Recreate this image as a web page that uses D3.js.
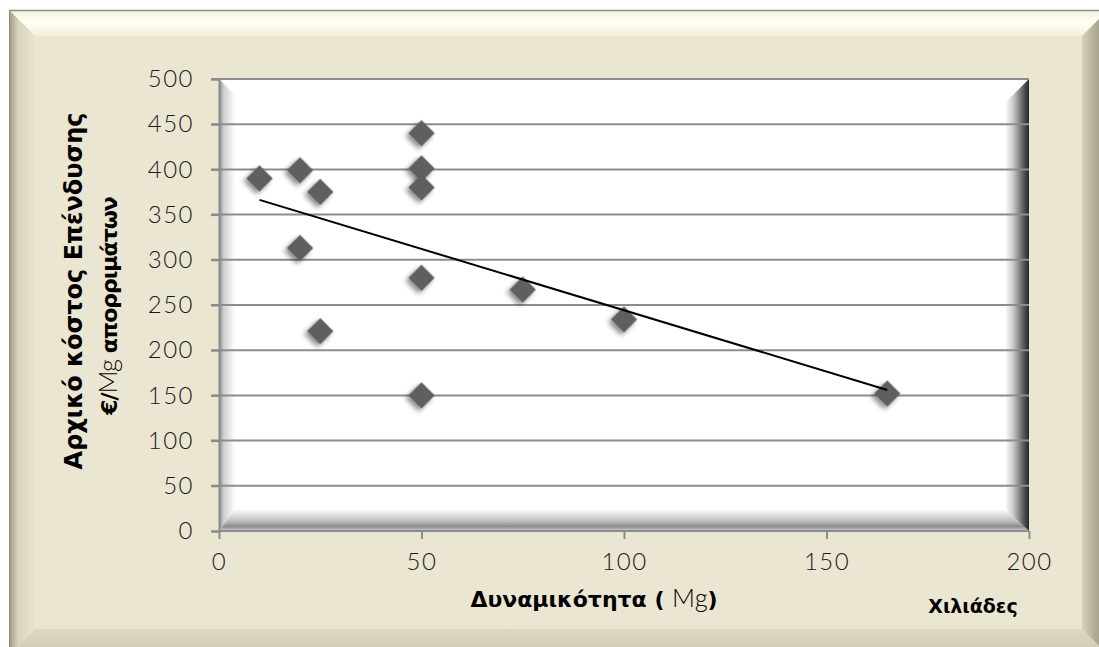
<!DOCTYPE html>
<html>
<head>
<meta charset="utf-8">
<script src="https://cdn.jsdelivr.net/npm/d3@7"></script>
<style>
  html, body { margin: 0; padding: 0; background: #ffffff; }
  svg { display: block; }
  .tick-label { font-family: Lato, sans-serif; font-weight: 300; font-size: 24px; fill: #1a1a1a; letter-spacing: 1.5px; }
  .axis-title { font-family: "DejaVu Sans", Verdana, sans-serif; font-weight: bold; fill: #000; }
  .unit { font-family: Lato, sans-serif; font-weight: 300; font-size: 1.15em; }
</style>
</head>
<body>
<svg id="chart" width="1099" height="647"></svg>
<script>
// Capacity (thousand Mg) and initial investment cost (€/Mg of waste)
const capacity = [10, 20, 25, 20, 25, 50, 50, 50, 50, 50, 75, 100, 165];
const cost     = [390, 399, 375, 313, 221, 440, 401, 380, 280, 150, 267, 234, 152];
const xTicks = [0, 50, 100, 150, 200];
const yTicks = [0, 50, 100, 150, 200, 250, 300, 350, 400, 450, 500];
const yTitleLines = ["Αρχικό κόστος Επένδυσης", "€/Mg απορριμάτων"];
const xTitle = "Δυναμικότητα ( Mg)";
const xUnitLabel = "Χιλιάδες";

const W = 1099, H = 647;
const svg = d3.select("#chart");
const defs = svg.append("defs");

function linGrad(id, x1, y1, x2, y2, stops) {
  const g = defs.append("linearGradient").attr("id", id)
    .attr("x1", x1).attr("y1", y1).attr("x2", x2).attr("y2", y2);
  stops.forEach(s => g.append("stop").attr("offset", s[0]).attr("stop-color", s[1]));
}

// Outer frame bevel
linGrad("bevTop", 0, 0, 0, 1, [[0, "#f4f1dc"], [0.5, "#fffff6"], [1, "#f3efdc"]]);
linGrad("bevLeft", 0, 0, 1, 0, [[0, "#9b9884"], [0.35, "#d8d3bd"], [1, "#e9e4cf"]]);
linGrad("bevRight", 0, 0, 1, 0, [[0, "#d7d2bc"], [0.6, "#a8a590"], [1, "#8e8b78"]]);
linGrad("bevBottom", 0, 0, 0, 1, [[0, "#ddd8c2"], [1, "#cfc9b2"]]);

const fx0 = 9, fy0 = 10, fx1 = 1108, fy1 = 655, bw = 26;
svg.append("rect").attr("x", fx0).attr("y", fy0).attr("width", fx1 - fx0).attr("height", fy1 - fy0)
  .attr("fill", "#ebe6d2");
const poly = (pts, fill) => svg.append("polygon").attr("points", pts.map(p => p.join(",")).join(" ")).attr("fill", fill);
poly([[fx0, fy0], [fx1, fy0], [fx1 - bw, fy0 + bw], [fx0 + bw, fy0 + bw]], "url(#bevTop)");
poly([[fx0, fy0], [fx0 + bw, fy0 + bw], [fx0 + bw, fy1 - bw], [fx0, fy1]], "url(#bevLeft)");
poly([[fx1, fy0], [fx1, fy1], [fx1 - bw, fy1 - bw], [fx1 - bw, fy0 + bw]], "url(#bevRight)");
poly([[fx0, fy1], [fx0 + bw, fy1 - bw], [fx1 - bw, fy1 - bw], [fx1, fy1]], "url(#bevBottom)");
svg.append("line").attr("x1", fx0).attr("y1", fy0 + 0.5).attr("x2", fx1).attr("y2", fy0 + 0.5)
  .attr("stroke", "#8a8a80").attr("stroke-width", 1.5);
svg.append("line").attr("x1", fx0 + 0.5).attr("y1", fy0).attr("x2", fx0 + 0.5).attr("y2", fy1)
  .attr("stroke", "#8a8a80").attr("stroke-width", 1);

// Plot area
const px0 = 219, px1 = 1029, py0 = 79, py1 = 531;
const x = d3.scaleLinear().domain([0, 200]).range([px0, px1]);
const y = d3.scaleLinear().domain([0, 500]).range([py1, py0]);

svg.append("rect").attr("x", px0).attr("y", py0).attr("width", px1 - px0).attr("height", py1 - py0)
  .attr("fill", "#ffffff");

// Inner bevel of the plot area
linGrad("inLeft", 0, 0, 1, 0, [[0, "#8a8a8a"], [0.3, "#cfcfcf"], [1, "#ffffff"]]);
linGrad("inBottom", 0, 0, 0, 1, [[0, "#ffffff"], [0.55, "#bdbdbd"], [0.8, "#8c8c8c"], [1, "#d0d0d0"]]);
linGrad("inRight", 0, 0, 1, 0, [[0, "#ffffff"], [0.35, "#c8c8c8"], [0.75, "#5e5e5e"], [1, "#262626"]]);
const lb = 16, bb = 22, rb = 24;
poly([[px0, py0], [px0 + lb, py0 + lb], [px0 + lb, py1 - bb], [px0, py1]], "url(#inLeft)");
poly([[px0, py1], [px0 + lb, py1 - bb], [px1 - rb, py1 - bb], [px1, py1]], "url(#inBottom)");
poly([[px1, py0], [px1, py1], [px1 - rb, py1 - bb], [px1 - rb, py0 + rb]], "url(#inRight)");

// Gridlines
svg.append("g").selectAll("line").data(yTicks.filter(t => t > 0)).join("line")
  .attr("x1", px0 - 8).attr("x2", px1).attr("y1", d => y(d)).attr("y2", d => y(d))
  .attr("stroke", "#8c8c8c").attr("stroke-width", 2);

// Axes
const yAxis = svg.append("g").attr("transform", `translate(${px0},0)`)
  .call(d3.axisLeft(y).tickValues(yTicks).tickSize(8).tickPadding(17).tickFormat(d3.format("d")));
const xAxis = svg.append("g").attr("transform", `translate(0,${py1})`)
  .call(d3.axisBottom(x).tickValues(xTicks).tickSize(8).tickPadding(14).tickFormat(d3.format("d")));
[yAxis, xAxis].forEach(a => {
  a.attr("font-size", null).attr("font-family", null);
  a.select(".domain").attr("stroke", "#8c8c8c").attr("stroke-width", 2);
  a.selectAll(".tick line").attr("stroke", "#8c8c8c").attr("stroke-width", 2);
  a.selectAll(".tick text").attr("class", "tick-label").attr("fill", null);
});
xAxis.select(".domain").attr("d", `M${px0},0H${px1}`);

// Markers with soft shadow
const f = defs.append("filter").attr("id", "shadow").attr("x", "-50%").attr("y", "-50%").attr("width", "200%").attr("height", "200%");
f.append("feGaussianBlur").attr("in", "SourceAlpha").attr("stdDeviation", 2.5).attr("result", "b");
f.append("feOffset").attr("in", "b").attr("dx", 0).attr("dy", 4).attr("result", "o");
f.append("feComponentTransfer").attr("in", "o").attr("result", "s")
  .append("feFuncA").attr("type", "linear").attr("slope", 0.45);
const m = f.append("feMerge");
m.append("feMergeNode").attr("in", "s");
m.append("feMergeNode").attr("in", "SourceGraphic");

const pts = capacity.map((c, i) => ({ c, v: cost[i] }));
const sq = d3.symbol().type(d3.symbolSquare).size(350);
svg.append("g").selectAll("path").data(pts).join("path")
  .attr("d", sq)
  .attr("transform", d => `translate(${x(d.c)},${y(d.v)}) rotate(45)`)
  .attr("fill", "#5f5f5f")
  .attr("filter", "url(#shadow)");

// Linear trend line (least squares) over the data range
const mx = d3.mean(capacity), my = d3.mean(cost);
const sxy = d3.sum(capacity, (c, i) => (c - mx) * (cost[i] - my));
const sxx = d3.sum(capacity, c => (c - mx) * (c - mx));
const slope = sxy / sxx, icpt = my - slope * mx;
const [xmin, xmax] = d3.extent(capacity);
svg.append("line")
  .attr("x1", x(xmin)).attr("y1", y(icpt + slope * xmin))
  .attr("x2", x(xmax)).attr("y2", y(icpt + slope * xmax))
  .attr("stroke", "#000").attr("stroke-width", 2);

// Writes a title, setting the unit "Mg" in the light face
function richText(sel, str) {
  str.split(/(Mg)/).filter(s => s.length).forEach(part => {
    const t = sel.append("tspan").text(part);
    if (part === "Mg") t.attr("class", "unit");
  });
}

// Titles (vertical, two lines)
const yTitleStyle = [
  { size: 24, spacing: 0, baseX: 82, centerY: 291 },
  { size: 22, spacing: -1, baseX: 117, centerY: 306 }
];
yTitleLines.forEach((line, i) => {
  const s = yTitleStyle[i];
  const t = svg.append("text").attr("class", "axis-title").attr("font-size", s.size)
    .attr("letter-spacing", s.spacing)
    .attr("transform", `translate(${s.baseX},${s.centerY}) rotate(-90)`)
    .attr("text-anchor", "middle");
  richText(t, line);
});

const xt = svg.append("text").attr("class", "axis-title").attr("font-size", 22)
  .attr("x", 594).attr("y", 607).attr("text-anchor", "middle");
richText(xt, xTitle);
svg.append("text").attr("class", "axis-title").attr("font-size", 19)
  .attr("x", 973).attr("y", 613).attr("text-anchor", "middle").text(xUnitLabel);
</script>
</body>
</html>
